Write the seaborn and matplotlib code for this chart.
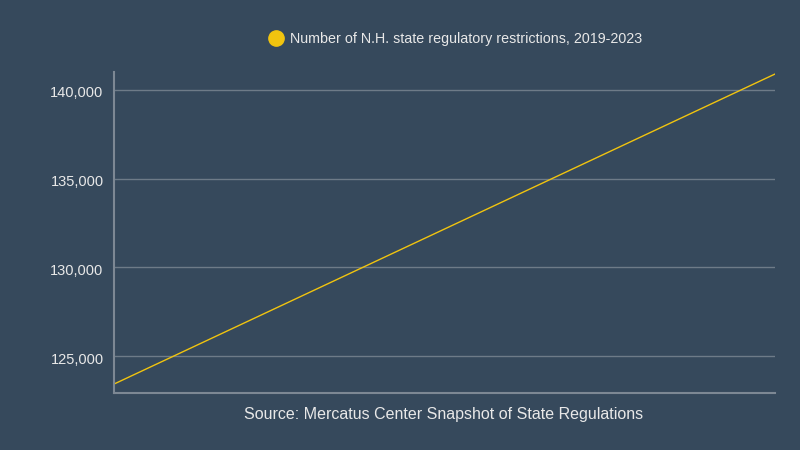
import matplotlib
matplotlib.use("Agg")
import matplotlib.pyplot as plt
import matplotlib.transforms as mtransforms
import seaborn as sns
import pandas as pd
from matplotlib.lines import Line2D
from matplotlib.ticker import FuncFormatter

years = [2019, 2023]
restrictions = [123420, 140900]
series_label = "Number of N.H. state regulatory restrictions, 2019-2023"
source_text = "Source: Mercatus Center Snapshot of State Regulations"
yticks = [125000, 130000, 135000, 140000]

bg = "#36495c"
line_color = "#f1c40f"
grid_color = "#6e7b88"
spine_color = "#7d8894"
text_color = "#e8e8e8"

sns.set_theme(style="white")
plt.rcParams["font.family"] = ["Liberation Sans", "DejaVu Sans"]

df = pd.DataFrame({"year": years, "value": restrictions})

fig = plt.figure(figsize=(8, 4.5), dpi=100, facecolor=bg)
ax = fig.add_axes([114/800, 1-393/450, (775-114)/800, (393-72)/450])
ax.set_facecolor(bg)

sns.lineplot(data=df, x="year", y="value", ax=ax, color=line_color, linewidth=1.0)

ax.set_xlim(years[0], years[-1])
ax.set_ylim(122916, 141014)
ax.set_yticks(yticks)
ax.yaxis.set_major_formatter(FuncFormatter(lambda v, p: f"{int(v):,}"))
ax.set_xticks([])
ax.set_xlabel("")
ax.set_ylabel("")
ax.grid(axis="y", color=grid_color, linewidth=1)
ax.set_axisbelow(True)
ax.tick_params(axis="y", colors=text_color, labelsize=10.5, length=0, pad=7.5)
offset = mtransforms.ScaledTranslation(0, -2/100, fig.dpi_scale_trans)
for lbl in ax.get_yticklabels():
    lbl.set_transform(lbl.get_transform() + offset)
for s in ["top", "right"]:
    ax.spines[s].set_visible(False)
for s in ["left", "bottom"]:
    ax.spines[s].set_color(spine_color)
    ax.spines[s].set_linewidth(1.5)

handle = Line2D([], [], marker="o", linestyle="", markersize=11,
                markerfacecolor=line_color, markeredgecolor=line_color)
fig.legend([handle], [series_label], loc="center", bbox_to_anchor=(455.5/800, 1-39/450),
           frameon=False, fontsize=10.3, labelcolor=text_color, handletextpad=0.5,
           handlelength=1.0)

fig.text(444/800, 1-414/450, source_text, ha="center", va="center",
         color=text_color, fontsize=11.5)

fig.savefig("out.png", dpi=100, facecolor=bg)
